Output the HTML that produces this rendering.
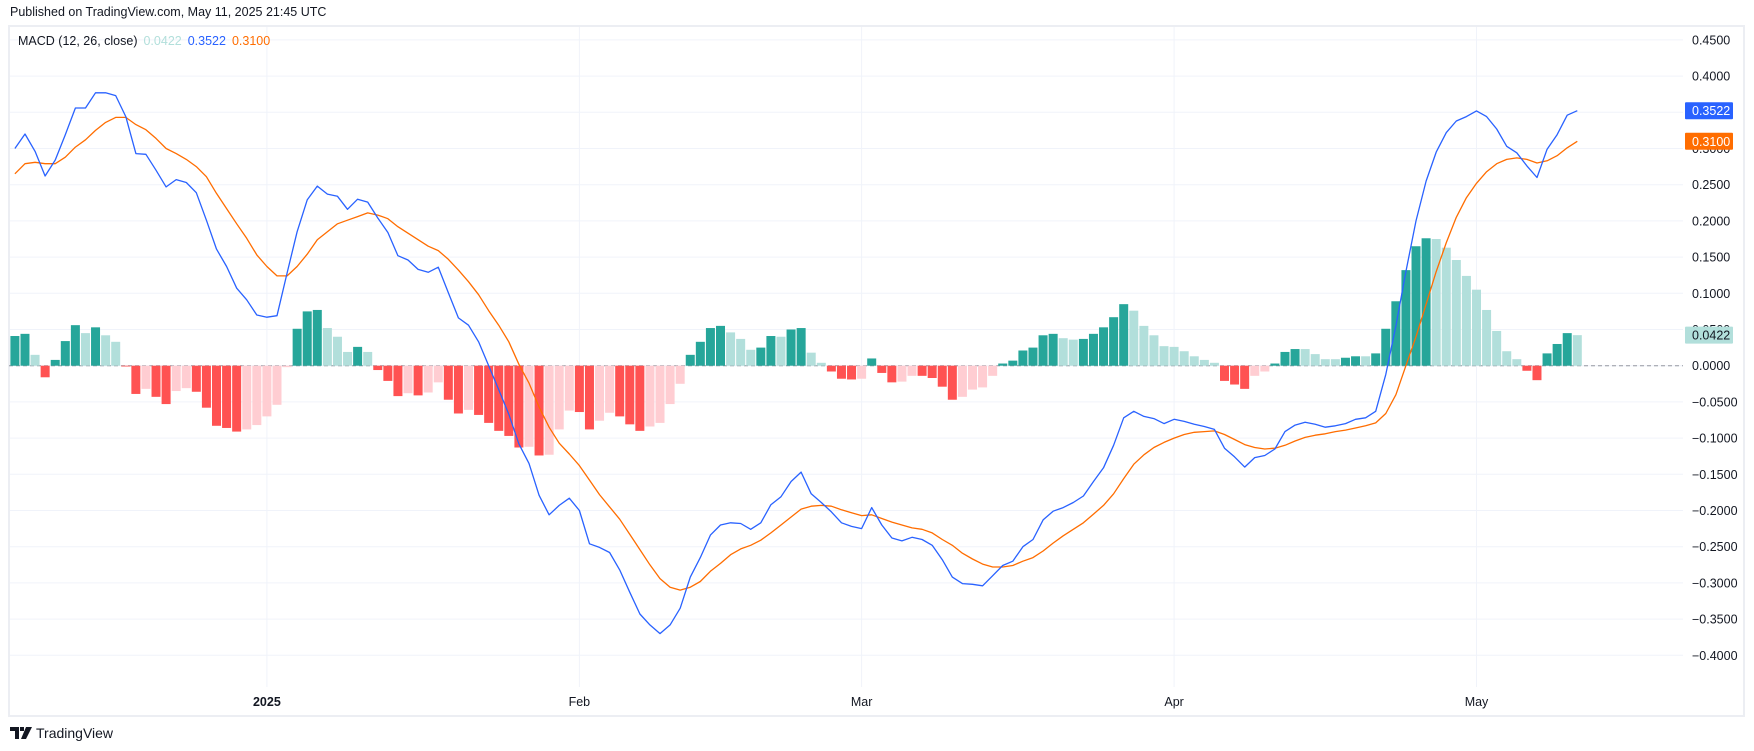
<!DOCTYPE html>
<html><head><meta charset="utf-8"><title>MACD chart</title>
<style>
html,body{margin:0;padding:0;background:#fff;}
body{width:1754px;height:751px;overflow:hidden;position:relative;font-family:"Liberation Sans",sans-serif;color:#131722;}
#hdr{position:absolute;left:10px;top:5px;font-size:12.5px;}
#legend{position:absolute;left:18px;top:34px;font-size:12.5px;white-space:nowrap;}
#legend span{margin-right:6px;}
#logo{position:absolute;left:10px;top:725px;font-size:14px;display:flex;align-items:center;gap:4px;}
svg{position:absolute;left:0;top:0;}
</style></head>
<body>
<div id="hdr">Published on TradingView.com, May 11, 2025 21:45 UTC</div>
<svg id="chart" width="1754" height="751"></svg>
<div id="legend"><span>MACD (12, 26, close)</span><span style="color:#b2dfdb">0.0422</span><span style="color:#2962ff">0.3522</span><span style="color:#ff6d00">0.3100</span></div>
<div id="logo"><svg width="22" height="12" style="position:static"><path d="M0 0H9V12H5V4H0Z M10 0H14V4H10Z M16 0H22L16 12H11Z" fill="#131722"/></svg><span>TradingView</span></div>
<script>
const histValues=[0.041,0.044,0.015,-0.016,0.008,0.034,0.056,0.045,0.053,0.042,
0.033,-0.001,-0.039,-0.032,-0.043,-0.053,-0.035,-0.031,-0.036,-0.058,
-0.083,-0.086,-0.091,-0.088,-0.082,-0.070,-0.054,-0.002,0.051,0.075,
0.077,0.052,0.040,0.019,0.026,0.019,-0.006,-0.021,-0.042,-0.038,
-0.041,-0.037,-0.023,-0.047,-0.066,-0.061,-0.068,-0.079,-0.090,-0.097,
-0.113,-0.112,-0.124,-0.123,-0.088,-0.062,-0.064,-0.088,-0.076,-0.065,
-0.070,-0.081,-0.090,-0.084,-0.079,-0.053,-0.025,0.015,0.033,0.052,
0.055,0.046,0.037,0.022,0.025,0.041,0.040,0.050,0.052,0.018,
0.004,-0.008,-0.018,-0.019,-0.018,0.010,-0.010,-0.023,-0.022,-0.014,
-0.014,-0.017,-0.029,-0.047,-0.043,-0.033,-0.030,-0.014,0.003,0.007,
0.021,0.025,0.042,0.044,0.038,0.036,0.037,0.044,0.053,0.067,
0.085,0.076,0.055,0.042,0.027,0.026,0.020,0.013,0.008,0.004,
-0.021,-0.026,-0.032,-0.014,-0.008,0.003,0.019,0.023,0.023,0.016,
0.009,0.009,0.011,0.013,0.013,0.017,0.051,0.089,0.132,0.165,
0.176,0.175,0.163,0.146,0.124,0.105,0.077,0.048,0.020,0.009,
-0.007,-0.020,0.017,0.030,0.045,0.0422];
const macdValues=[0.300,0.320,0.296,0.262,0.284,0.319,0.356,0.356,0.377,0.377,
0.373,0.344,0.293,0.292,0.270,0.247,0.257,0.253,0.239,0.201,
0.161,0.137,0.107,0.091,0.070,0.067,0.069,0.128,0.185,0.229,
0.248,0.237,0.234,0.216,0.230,0.226,0.204,0.184,0.152,0.146,
0.133,0.129,0.136,0.101,0.066,0.056,0.033,0.000,-0.033,-0.067,
-0.108,-0.135,-0.179,-0.206,-0.193,-0.183,-0.200,-0.246,-0.251,-0.258,
-0.282,-0.313,-0.343,-0.358,-0.370,-0.358,-0.335,-0.292,-0.265,-0.234,
-0.220,-0.217,-0.218,-0.226,-0.217,-0.192,-0.181,-0.160,-0.147,-0.177,
-0.189,-0.202,-0.217,-0.222,-0.225,-0.196,-0.220,-0.238,-0.242,-0.237,
-0.240,-0.248,-0.268,-0.292,-0.301,-0.302,-0.304,-0.290,-0.276,-0.270,
-0.250,-0.240,-0.213,-0.201,-0.196,-0.189,-0.180,-0.160,-0.141,-0.110,
-0.072,-0.063,-0.070,-0.073,-0.080,-0.074,-0.077,-0.081,-0.084,-0.088,
-0.114,-0.126,-0.140,-0.127,-0.124,-0.115,-0.091,-0.082,-0.078,-0.081,
-0.085,-0.083,-0.080,-0.074,-0.072,-0.063,-0.012,0.055,0.130,0.200,
0.255,0.295,0.322,0.338,0.344,0.352,0.344,0.327,0.303,0.294,
0.276,0.260,0.299,0.319,0.346,0.3522];
const signalValues=[0.265,0.279,0.281,0.279,0.279,0.288,0.302,0.312,0.325,0.336,
0.343,0.343,0.333,0.326,0.314,0.300,0.293,0.285,0.275,0.261,
0.238,0.217,0.196,0.176,0.153,0.137,0.124,0.124,0.137,0.154,
0.174,0.185,0.196,0.201,0.206,0.211,0.208,0.203,0.192,0.183,
0.174,0.165,0.159,0.147,0.132,0.116,0.098,0.076,0.056,0.033,
0.002,-0.024,-0.057,-0.085,-0.107,-0.122,-0.138,-0.158,-0.178,-0.195,
-0.212,-0.233,-0.254,-0.275,-0.294,-0.306,-0.310,-0.306,-0.298,-0.284,
-0.273,-0.261,-0.253,-0.248,-0.241,-0.231,-0.220,-0.209,-0.198,-0.194,
-0.193,-0.194,-0.199,-0.203,-0.207,-0.206,-0.211,-0.216,-0.220,-0.224,
-0.226,-0.231,-0.240,-0.248,-0.259,-0.267,-0.274,-0.278,-0.278,-0.276,
-0.270,-0.265,-0.256,-0.245,-0.235,-0.226,-0.217,-0.205,-0.193,-0.177,
-0.156,-0.136,-0.123,-0.113,-0.106,-0.100,-0.095,-0.092,-0.091,-0.090,
-0.095,-0.102,-0.109,-0.113,-0.115,-0.114,-0.110,-0.104,-0.099,-0.096,
-0.094,-0.091,-0.089,-0.086,-0.083,-0.079,-0.066,-0.040,0.000,0.040,
0.085,0.130,0.170,0.205,0.232,0.252,0.268,0.279,0.285,0.287,
0.285,0.280,0.283,0.290,0.301,0.3100];
const yTicks=[0.45,0.40,0.35,0.30,0.25,0.20,0.15,0.10,0.05,0,-0.05,-0.10,-0.15,-0.20,-0.25,-0.30,-0.35,-0.40];
const monthLabels=["2025","Feb","Mar","Apr","May"];
const monthIndex=[25,56,84,115,145];

const NS="http://www.w3.org/2000/svg";
const svg=document.getElementById('chart');
const PL=9,PR=1683,PT=26,PB=687,OB=716,OR=1744;
const yOf=v=>365.7-v*724;
const xOf=i=>14.9+i*10.08;
function mk(tag,attrs,parent){const e=document.createElementNS(NS,tag);for(const k in attrs)e.setAttribute(k,attrs[k]);(parent||svg).appendChild(e);return e;}

const grid=mk('g',{});


yTicks.forEach(v=>{const l=mk('line',{x1:PL,x2:PR,y1:yOf(v),y2:yOf(v),stroke:'#f0f3fa','stroke-width':1},grid);

});
monthIndex.forEach(i=>{const l=mk('line',{x1:xOf(i),x2:xOf(i),y1:PT,y2:PB,stroke:'#f0f3fa','stroke-width':1},grid);

});

const frame=mk('rect',{x:PL,y:PT,width:OR-PL,height:OB-PT,fill:'none',stroke:'#eceef3','stroke-width':2});



const zero=mk('line',{x1:PL,x2:PR,y1:yOf(0),y2:yOf(0),stroke:'#9598a1','stroke-width':1,'stroke-dasharray':'4 3'});



const bars=mk('g',{});


histValues.forEach((v,i)=>{
  const prev=i>0?histValues[i-1]:v-1;
  let c;
  if(v>=0)c=(prev<v)?'#26a69a':'#b2dfdb';
  else c=(prev<v)?'#ffcdd2':'#ff5252';
  const y0=yOf(0),y1=yOf(v);
  const r=mk('rect',{x:xOf(i)-4.5,y:Math.min(y0,y1),width:9,height:Math.max(0.8,Math.abs(y1-y0)),fill:c},bars);
  
  
});

function line(arr,color,name){
  const d=arr.map((v,i)=>(i?'L':'M')+xOf(i).toFixed(1)+' '+yOf(v).toFixed(1)).join(' ');
  const p=mk('path',{d:d,fill:'none',stroke:color,'stroke-width':1.3,'stroke-linejoin':'round'});
  
  
}
line(signalValues,'#ff6d00','signal-line');
line(macdValues,'#2962ff','macd-line');

const axis=mk('g',{'font-family':'Liberation Sans, sans-serif','font-size':'12.5',fill:'#131722'});


yTicks.forEach(v=>{const t=mk('text',{x:1692,y:yOf(v)+4.5},axis);t.textContent=v.toFixed(4).replace('-','\u2212');

});

const taxis=mk('g',{'font-family':'Liberation Sans, sans-serif','font-size':'12.5',fill:'#131722','text-anchor':'middle'});


monthLabels.forEach((m,k)=>{const t=mk('text',{x:xOf(monthIndex[k]),y:706,'font-weight':m==='2025'?'bold':'normal'},taxis);t.textContent=m;

});

function badge(v,bg,fg,name){
  const g=mk('g',{});
  
  
  const y=yOf(v);
  mk('rect',{x:1685,y:y-8.5,width:48,height:17,fill:bg,rx:1},g);
  const t=mk('text',{x:1692,y:y+4.5,'font-family':'Liberation Sans, sans-serif','font-size':'12.5',fill:fg},g);
  t.textContent=v.toFixed(4);
}
badge(histValues[histValues.length-1],'#b2dfdb','#131722','histogram-value-badge');
badge(signalValues[signalValues.length-1],'#ff6d00','#ffffff','signal-value-badge');
badge(macdValues[macdValues.length-1],'#2962ff','#ffffff','macd-value-badge');
</script>
</body></html>
